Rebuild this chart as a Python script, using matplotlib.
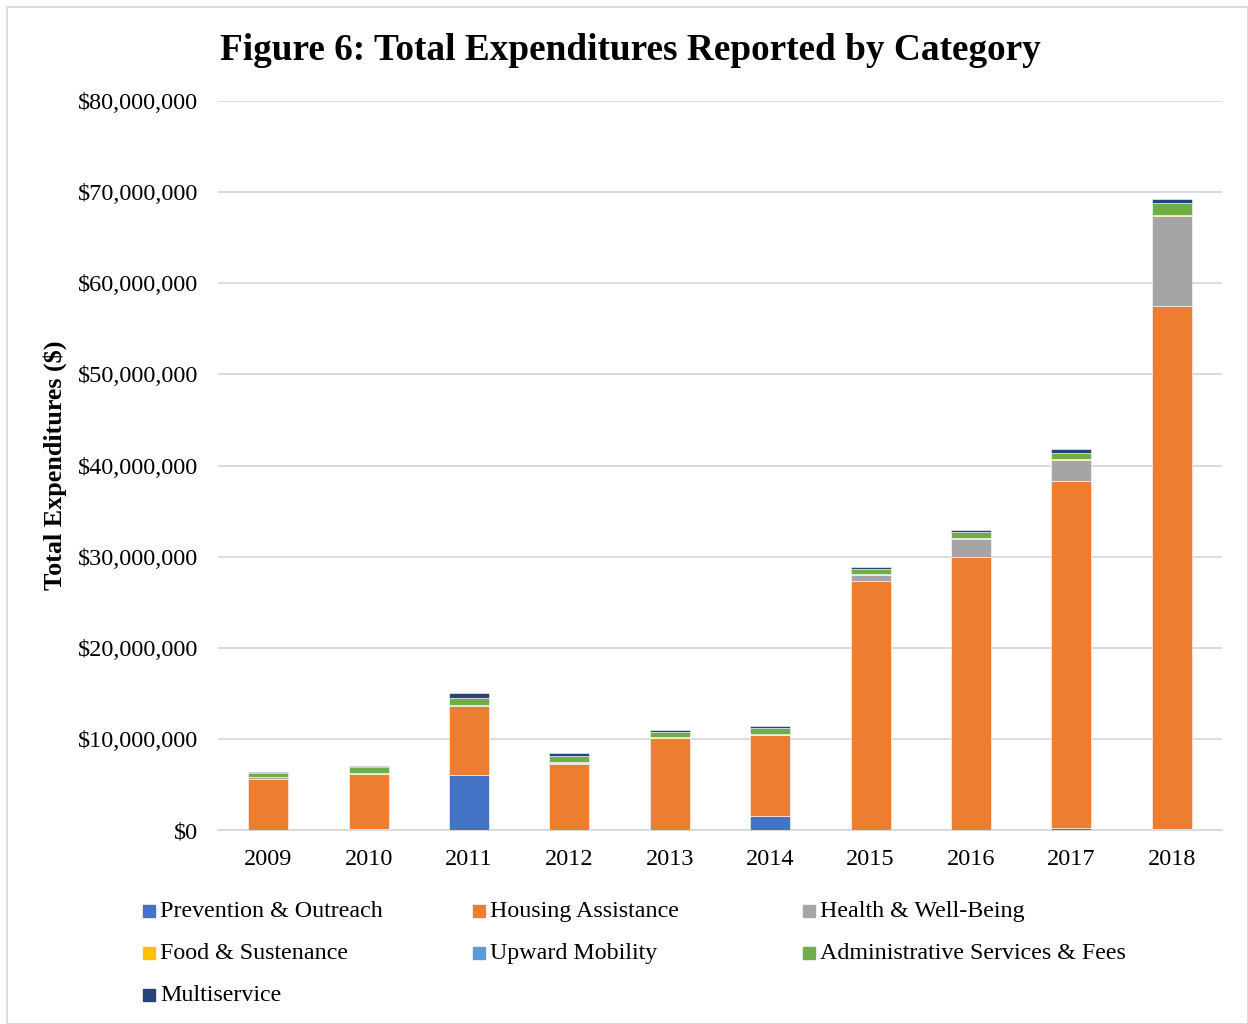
import numpy as np
import matplotlib.pyplot as plt
from matplotlib.patches import Rectangle
from matplotlib.ticker import FuncFormatter

plt.rcParams['font.family'] = ['Liberation Serif', 'DejaVu Serif']

years = ['2009', '2010', '2011', '2012', '2013', '2014', '2015', '2016', '2017', '2018']

# expenditures in millions of dollars
prevention = [0.0, 0.10, 6.07, 0.0, 0.0, 1.57, 0.0, 0.0, 0.20, 0.0]
housing = [5.63, 6.08, 7.57, 7.28, 10.13, 8.89, 27.36, 29.99, 38.13, 57.40]
health = [0.19, 0.0, 0.05, 0.05, 0.0, 0.0, 0.59, 1.94, 2.27, 9.84]
food = [0.05, 0.05, 0.08, 0.12, 0.10, 0.10, 0.11, 0.15, 0.11, 0.05]
upward = [0.0, 0.0, 0.0, 0.0, 0.0, 0.0, 0.0, 0.0, 0.0, 0.15]
admin = [0.36, 0.66, 0.74, 0.62, 0.51, 0.63, 0.58, 0.62, 0.69, 1.32]
multi = [0.10, 0.10, 0.47, 0.33, 0.22, 0.22, 0.22, 0.26, 0.41, 0.47]

labels = ['Prevention & Outreach', 'Housing Assistance', 'Health & Well-Being',
          'Food & Sustenance', 'Upward Mobility', 'Administrative Services & Fees',
          'Multiservice']
colors = ['#4472C4', '#ED7D31', '#A5A5A5', '#FFC000', '#5B9BD5', '#70AD47', '#264478']

# stacking order from the bottom up
stack_order = [0, 4, 1, 2, 3, 5, 6]
series = [prevention, housing, health, food, upward, admin, multi]

fig = plt.figure(figsize=(12.48, 10.24), dpi=100)
ax = fig.add_axes([218 / 1248, 194 / 1024, 1004 / 1248, 729 / 1024])

x = np.arange(len(years))
bottom = np.zeros(len(years))
for i in stack_order:
    vals = np.array(series[i]) * 1e6
    ax.bar(x, vals, 0.4, bottom=bottom, color=colors[i],
           edgecolor='white', linewidth=0.4, zorder=3)
    bottom += vals

ax.set_xlim(-0.5, len(years) - 0.5)
ax.set_ylim(0, 80e6)
ax.set_yticks(np.arange(0, 80e6 + 1, 10e6))
ax.yaxis.set_major_formatter(FuncFormatter(lambda v, p: '${:,.0f}'.format(v)))
ax.set_xticks(x)
ax.set_xticklabels(years)
ax.grid(axis='y', color='#d9d9d9', linewidth=1.3, zorder=0)
for s in ['top', 'right', 'left']:
    ax.spines[s].set_visible(False)
ax.spines['bottom'].set_color('#d9d9d9')
ax.spines['bottom'].set_linewidth(1.3)
ax.tick_params(axis='both', length=0, labelsize=17.5)
ax.tick_params(axis='y', pad=14)
ax.tick_params(axis='x', pad=14)

ax.set_ylabel('Total Expenditures ($)', fontsize=18.8, fontweight='bold')
ax.yaxis.set_label_coords(-151 / 1004, 0.5)

fig.text(630 / 1248, 1 - 51 / 1024, 'Figure 6: Total Expenditures Reported by Category',
         ha='center', va='center', fontsize=26.8, fontweight='bold')

# legend laid out in three equal-width columns
for k, i in enumerate(range(len(labels))):
    row, col = divmod(k, 3)
    lx = 143 + col * 330
    ly = 917 + row * 42.2
    fig.patches.append(Rectangle((lx / 1248, 1 - ly / 1024), 12 / 1248, 12 / 1024,
                                 transform=fig.transFigure, color=colors[i]))
    fig.text((lx + 17) / 1248, 1 - ly / 1024, labels[i], ha='left', va='baseline',
             fontsize=17.3)

fig.patches.append(Rectangle((7 / 1248, 0), 1 - 7 / 1248, 1 - 7 / 1024,
                             transform=fig.transFigure, fill=False,
                             edgecolor='#d9d9d9', linewidth=1.3))

fig.savefig('out.png', dpi=100)
